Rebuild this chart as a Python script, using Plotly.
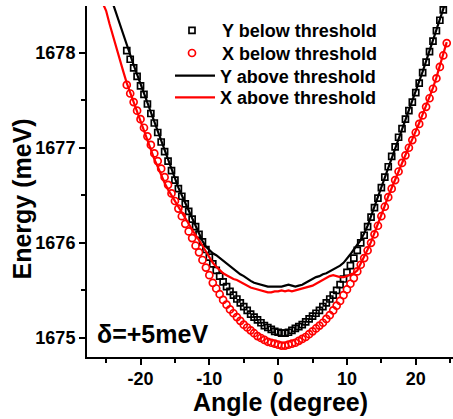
import plotly.graph_objects as go

# ---------------- data ----------------
angle_y_below = [-22.0, -21.5, -21.0, -20.5, -20.0, -19.5, -19.0, -18.5, -18.0, -17.5,
                 -17.0, -16.5, -16.0, -15.5, -15.0, -14.5, -14.0, -13.5, -13.0, -12.5,
                 -12.0, -11.5, -11.0, -10.5, -10.0, -9.5, -9.0, -8.5, -8.0, -7.5,
                 -7.0, -6.5, -6.0, -5.5, -5.0, -4.5, -4.0, -3.5, -3.0, -2.5,
                 -2.0, -1.5, -1.0, -0.5, 0.0, 0.5, 1.0, 1.5, 2.0, 2.5,
                 3.0, 3.5, 4.0, 4.5, 5.0, 5.5, 6.0, 6.5, 7.0, 7.5,
                 8.0, 8.5, 9.0, 9.5, 10.0, 10.5, 11.0, 11.5, 12.0, 12.5,
                 13.0, 13.5, 14.0, 14.5, 15.0, 15.5, 16.0, 16.5, 17.0, 17.5,
                 18.0, 18.5, 19.0, 19.5, 20.0, 20.5, 21.0, 21.5, 22.0, 22.5,
                 23.0, 23.5, 24.0]
energy_y_below = [1678.02, 1677.93, 1677.84, 1677.75, 1677.65, 1677.56, 1677.46, 1677.36, 1677.26, 1677.16,
                  1677.06, 1676.96, 1676.86, 1676.76, 1676.66, 1676.57, 1676.49, 1676.41, 1676.33, 1676.25,
                  1676.17, 1676.09, 1676.01, 1675.93, 1675.85, 1675.78, 1675.71, 1675.65, 1675.59, 1675.54,
                  1675.49, 1675.45, 1675.41, 1675.37, 1675.33, 1675.29, 1675.25, 1675.22, 1675.19, 1675.16,
                  1675.13, 1675.11, 1675.09, 1675.07, 1675.06, 1675.05, 1675.05, 1675.06, 1675.08, 1675.10,
                  1675.12, 1675.14, 1675.17, 1675.20, 1675.23, 1675.26, 1675.29, 1675.33, 1675.37, 1675.41,
                  1675.45, 1675.50, 1675.56, 1675.62, 1675.69, 1675.76, 1675.84, 1675.92, 1676.00, 1676.08,
                  1676.17, 1676.27, 1676.37, 1676.47, 1676.58, 1676.69, 1676.80, 1676.91, 1677.01, 1677.11,
                  1677.20, 1677.30, 1677.39, 1677.48, 1677.58, 1677.68, 1677.79, 1677.90, 1678.01, 1678.12,
                  1678.23, 1678.34, 1678.45]

angle_x_below = [-22.0, -21.5, -21.0, -20.5, -20.0, -19.5, -19.0, -18.5, -18.0, -17.5,
                 -17.0, -16.5, -16.0, -15.5, -15.0, -14.5, -14.0, -13.5, -13.0, -12.5,
                 -12.0, -11.5, -11.0, -10.5, -10.0, -9.5, -9.0, -8.5, -8.0, -7.5,
                 -7.0, -6.5, -6.0, -5.5, -5.0, -4.5, -4.0, -3.5, -3.0, -2.5,
                 -2.0, -1.5, -1.0, -0.5, 0.0, 0.5, 1.0, 1.5, 2.0, 2.5,
                 3.0, 3.5, 4.0, 4.5, 5.0, 5.5, 6.0, 6.5, 7.0, 7.5,
                 8.0, 8.5, 9.0, 9.5, 10.0, 10.5, 11.0, 11.5, 12.0, 12.5,
                 13.0, 13.5, 14.0, 14.5, 15.0, 15.5, 16.0, 16.5, 17.0, 17.5,
                 18.0, 18.5, 19.0, 19.5, 20.0, 20.5, 21.0, 21.5, 22.0, 22.5,
                 23.0, 23.5, 24.0, 24.5]
energy_x_below = [1677.66, 1677.57, 1677.48, 1677.39, 1677.30, 1677.21, 1677.12, 1677.03, 1676.94, 1676.86,
                  1676.78, 1676.69, 1676.61, 1676.52, 1676.44, 1676.36, 1676.28, 1676.20, 1676.12, 1676.05,
                  1675.97, 1675.90, 1675.82, 1675.74, 1675.66, 1675.58, 1675.52, 1675.46, 1675.40, 1675.35,
                  1675.30, 1675.26, 1675.22, 1675.18, 1675.14, 1675.11, 1675.08, 1675.05, 1675.02, 1675.00,
                  1674.98, 1674.96, 1674.95, 1674.94, 1674.93, 1674.92, 1674.92, 1674.93, 1674.94, 1674.95,
                  1674.97, 1674.99, 1675.01, 1675.04, 1675.07, 1675.10, 1675.13, 1675.16, 1675.20, 1675.24,
                  1675.29, 1675.34, 1675.39, 1675.45, 1675.51, 1675.57, 1675.63, 1675.70, 1675.77, 1675.84,
                  1675.92, 1676.00, 1676.09, 1676.18, 1676.28, 1676.38, 1676.48, 1676.57, 1676.66, 1676.75,
                  1676.84, 1676.92, 1677.00, 1677.08, 1677.16, 1677.25, 1677.34, 1677.43, 1677.52, 1677.62,
                  1677.73, 1677.85, 1677.97, 1678.10]

angle_y_above = [-24.5, -24.0, -23.5, -23.0, -22.5, -22.0, -21.5, -21.0, -20.5, -20.0,
                 -19.5, -19.0, -18.5, -18.0, -17.5, -17.0, -16.5, -16.0, -15.5, -15.0,
                 -14.5, -14.0, -13.5, -13.0, -12.5, -12.0, -11.5, -11.0, -10.5, -10.0,
                 -9.5, -9.0, -8.5, -8.0, -7.5, -7.0, -6.5, -6.0, -5.5, -5.0,
                 -4.5, -4.0, -3.5, -3.0, -2.5, -2.0, -1.5, -1.0, -0.5, 0.0,
                 0.5, 1.0, 1.5, 2.0, 2.5, 3.0, 3.5, 4.0, 4.5, 5.0,
                 5.5, 6.0, 6.5, 7.0, 7.5, 8.0, 8.5, 9.0, 9.5, 10.0,
                 10.5, 11.0, 11.5, 12.0, 12.5, 13.0, 13.5, 14.0, 14.5, 15.0,
                 15.5, 16.0, 16.5, 17.0, 17.5, 18.0, 18.5, 19.0, 19.5, 20.0,
                 20.5, 21.0, 21.5, 22.0, 22.5, 23.0, 23.5, 24.0, 24.5]
energy_y_above = [1678.62, 1678.51, 1678.40, 1678.29, 1678.18, 1678.07, 1677.97, 1677.87, 1677.77, 1677.67,
                  1677.57, 1677.47, 1677.37, 1677.27, 1677.17, 1677.07, 1676.97, 1676.87, 1676.77, 1676.67,
                  1676.58, 1676.50, 1676.42, 1676.34, 1676.26, 1676.18, 1676.10, 1676.02, 1675.96, 1675.92,
                  1675.89, 1675.87, 1675.84, 1675.81, 1675.78, 1675.75, 1675.73, 1675.70, 1675.67, 1675.65,
                  1675.62, 1675.60, 1675.58, 1675.57, 1675.56, 1675.55, 1675.54, 1675.54, 1675.54, 1675.54,
                  1675.54, 1675.55, 1675.56, 1675.55, 1675.54, 1675.55, 1675.56, 1675.58, 1675.60, 1675.62,
                  1675.64, 1675.65, 1675.67, 1675.68, 1675.70, 1675.72, 1675.74, 1675.76, 1675.79, 1675.83,
                  1675.88, 1675.93, 1675.98, 1676.03, 1676.10, 1676.18, 1676.28, 1676.38, 1676.48, 1676.58,
                  1676.68, 1676.78, 1676.88, 1676.98, 1677.08, 1677.18, 1677.28, 1677.38, 1677.48, 1677.58,
                  1677.69, 1677.80, 1677.91, 1678.02, 1678.13, 1678.24, 1678.35, 1678.46, 1678.57]

angle_x_above = [-25.5, -25.0, -24.5, -24.0, -23.5, -23.0, -22.5, -22.0, -21.5, -21.0,
                 -20.5, -20.0, -19.5, -19.0, -18.5, -18.0, -17.5, -17.0, -16.5, -16.0,
                 -15.5, -15.0, -14.5, -14.0, -13.5, -13.0, -12.5, -12.0, -11.5, -11.0,
                 -10.5, -10.0, -9.5, -9.0, -8.5, -8.0, -7.5, -7.0, -6.5, -6.0,
                 -5.5, -5.0, -4.5, -4.0, -3.5, -3.0, -2.5, -2.0, -1.5, -1.0,
                 -0.5, 0.0, 0.5, 1.0, 1.5, 2.0, 2.5, 3.0, 3.5, 4.0,
                 4.5, 5.0, 5.5, 6.0, 6.5, 7.0, 7.5, 8.0, 8.5, 9.0,
                 9.5, 10.0, 10.5, 11.0, 11.5, 12.0, 12.5, 13.0, 13.5, 14.0,
                 14.5, 15.0, 15.5, 16.0, 16.5, 17.0, 17.5, 18.0, 18.5, 19.0,
                 19.5, 20.0, 20.5, 21.0, 21.5, 22.0, 22.5, 23.0, 23.5, 24.0,
                 24.5]
energy_x_above = [1678.52, 1678.44, 1678.30, 1678.17, 1678.05, 1677.93, 1677.80, 1677.68, 1677.58, 1677.47,
                  1677.37, 1677.26, 1677.16, 1677.06, 1676.97, 1676.88, 1676.80, 1676.71, 1676.63, 1676.56,
                  1676.50, 1676.43, 1676.37, 1676.31, 1676.25, 1676.19, 1676.14, 1676.08, 1676.03, 1675.97,
                  1675.91, 1675.85, 1675.79, 1675.75, 1675.71, 1675.68, 1675.66, 1675.64, 1675.62, 1675.61,
                  1675.59, 1675.57, 1675.55, 1675.53, 1675.52, 1675.51, 1675.50, 1675.49, 1675.48, 1675.48,
                  1675.49, 1675.49, 1675.50, 1675.49, 1675.50, 1675.49, 1675.50, 1675.51, 1675.52, 1675.53,
                  1675.54, 1675.55, 1675.57, 1675.59, 1675.61, 1675.63, 1675.65, 1675.66, 1675.65, 1675.64,
                  1675.64, 1675.65, 1675.67, 1675.68, 1675.71, 1675.78, 1675.85, 1675.93, 1676.01, 1676.10,
                  1676.19, 1676.29, 1676.39, 1676.49, 1676.58, 1676.67, 1676.76, 1676.85, 1676.93, 1677.01,
                  1677.09, 1677.17, 1677.26, 1677.35, 1677.44, 1677.53, 1677.63, 1677.74, 1677.86, 1677.98,
                  1678.11]

series_names = ["Y below threshold", "X below threshold", "Y above threshold", "X above threshold"]

x_tick_vals = [-20, -10, 0, 10, 20]
x_tick_text = ["-20", "-10", "0", "10", "20"]
y_tick_vals = [1675, 1676, 1677, 1678]
y_tick_text = ["1675", "1676", "1677", "1678"]

# ---------------- figure ----------------
FONT = "Liberation Sans, Arial, sans-serif"
W, H = 453, 419
L, R, T, B = 87, 0, 6, 62
PW, PH = W - L - R, H - T - B
PAD = "\u00a0"  # aligns marker-only legend text with line legend text


def px_x(p):
    return (p - L) / PW


def px_y(p):
    return 1 - (p - T) / PH


fig = go.Figure()
fig.add_trace(go.Scatter(x=angle_y_below, y=energy_y_below, mode="markers", name=PAD + series_names[0],
                         legend="legend",
                         marker=dict(symbol="square-open", size=6, color="black",
                                     line=dict(width=1.7, color="black"))))
fig.add_trace(go.Scatter(x=angle_x_below, y=energy_x_below, mode="markers", name=PAD + series_names[1],
                         legend="legend2",
                         marker=dict(symbol="circle-open", size=7, color="#ff0000",
                                     line=dict(width=1.7, color="#ff0000"))))
fig.add_trace(go.Scatter(x=angle_y_above, y=energy_y_above, mode="lines", name=series_names[2],
                         legend="legend3",
                         line=dict(color="black", width=2.2)))
fig.add_trace(go.Scatter(x=angle_x_above, y=energy_x_above, mode="lines", name=series_names[3],
                         legend="legend4",
                         line=dict(color="#ff0000", width=2.2)))

axis_font = dict(family=FONT, size=18, color="black", weight="bold")
legend_font = dict(family=FONT, size=18, color="black", weight="bold")


def legend_at(row_center_px, left_px):
    return dict(x=px_x(left_px), y=px_y(row_center_px), xanchor="left", yanchor="middle",
                bgcolor="rgba(0,0,0,0)", borderwidth=0, font=legend_font, itemwidth=40)


fig.update_layout(
    width=W, height=H,
    margin=dict(l=L, r=R, t=T, b=B, autoexpand=False),
    paper_bgcolor="white", plot_bgcolor="white",
    showlegend=True,
    legend=legend_at(30.7, 167),
    legend2=legend_at(53.3, 167),
    legend3=legend_at(76.0, 170),
    legend4=legend_at(97.7, 170),
    xaxis=dict(range=[-27.78, 25.41], showgrid=False, zeroline=False,
               showline=True, linecolor="black", linewidth=2, mirror=False,
               ticks="outside", ticklen=6, tickwidth=2, tickcolor="black",
               ticklabelstandoff=-2,
               tickvals=x_tick_vals, ticktext=x_tick_text, tickfont=axis_font,
               minor=dict(dtick=5, tick0=0, ticks="outside", ticklen=4, tickwidth=2,
                          tickcolor="black", showgrid=False)),
    yaxis=dict(range=[1674.80, 1678.49], showgrid=False, zeroline=False,
               showline=True, linecolor="black", linewidth=2, mirror=False,
               ticks="outside", ticklen=6, tickwidth=2, tickcolor="black",
               tickvals=y_tick_vals, ticktext=y_tick_text, tickfont=axis_font,
               minor=dict(dtick=0.5, tick0=1675, ticks="outside", ticklen=4, tickwidth=2,
                          tickcolor="black", showgrid=False)),
    annotations=[
        dict(text="Angle (degree)", xref="paper", yref="paper",
             x=px_x(280.5), y=px_y(401.5),
             xanchor="center", yanchor="middle", showarrow=False,
             font=dict(family=FONT, size=25, color="black", weight="bold")),
        dict(text="Energy (meV)", xref="paper", yref="paper", textangle=-90,
             x=px_x(21), y=px_y(199.5),
             xanchor="center", yanchor="middle", showarrow=False,
             font=dict(family=FONT, size=25, color="black", weight="bold")),
        dict(text="δ=+5meV", xref="paper", yref="paper",
             x=px_x(95), y=px_y(334),
             xanchor="left", yanchor="middle", showarrow=False,
             font=dict(family=FONT, size=25, color="black", weight="bold")),
    ],
)

fig.write_html("out.html", config={"displayModeBar": False},
               post_script="document.body.style.margin='0';document.body.style.overflow='hidden';")
